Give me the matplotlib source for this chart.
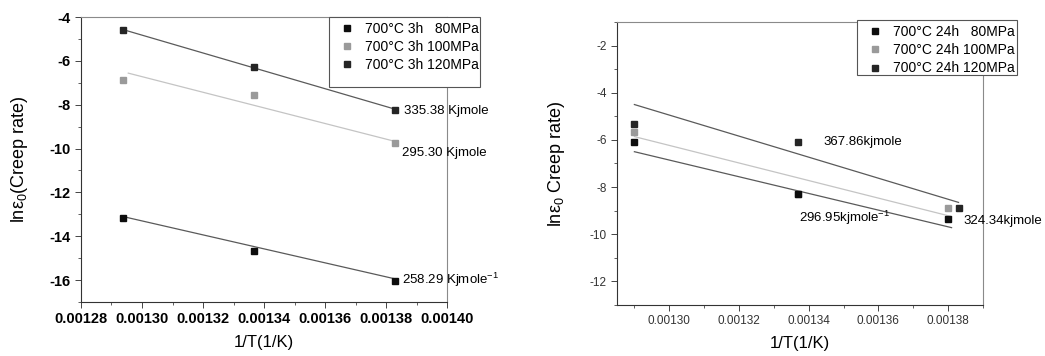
import matplotlib
matplotlib.use("Agg")
import matplotlib.pyplot as plt
from matplotlib.patches import Rectangle
from matplotlib.ticker import MultipleLocator, FormatStrFormatter

plt.rcParams["font.family"] = ["Liberation Sans", "DejaVu Sans"]
plt.rcParams["mathtext.fontset"] = "custom"
plt.rcParams["mathtext.rm"] = "Liberation Sans"
plt.rcParams["mathtext.it"] = "Liberation Sans:italic"
plt.rcParams["axes.unicode_minus"] = False

# --- left panel: 700°C 3h ---
x3 = [0.0012937, 0.0013368, 0.0013831]
y3_80 = [-13.16, -14.66, -16.03]
y3_100 = [-6.89, -7.55, -9.74]
y3_120 = [-4.60, -6.30, -8.24]
# fit lines (end points)
fit3_x = {"80": [0.0012937, 0.0013831], "100": [0.0012955, 0.0013831], "120": [0.0012937, 0.0013831]}
fit3_y = {"80": [-13.10, -15.95], "100": [-6.56, -9.68], "120": [-4.57, -8.21]}
labels3 = ["700°C 3h   80MPa", "700°C 3h 100MPa", "700°C 3h 120MPa"]
notes3 = ["335.38 Kjmole", "295.30 Kjmole", "258.29 Kjmole$^{-1}$"]
notes3_xy = [(0.0013858, -8.3), (0.0013852, -10.2), (0.0013852, -16.0)]

# --- right panel: 700°C 24h ---
x24 = [0.0012900, 0.0013368, 0.0013800]
x24_120 = [0.0012900, 0.0013368, 0.0013830]
y24_80 = [-6.07, -8.30, -9.37]
y24_100 = [-5.67, -8.30, -8.90]
y24_120 = [-5.32, -6.10, -8.87]
fit24_x = {"80": [0.0012900, 0.0013810], "100": [0.0012900, 0.0013810], "120": [0.0012900, 0.0013830]}
fit24_y = {"80": [-6.50, -9.72], "100": [-5.86, -9.25], "120": [-4.50, -8.65]}
labels24 = ["700°C 24h   80MPa", "700°C 24h 100MPa", "700°C 24h 120MPa"]
notes24 = ["367.86kjmole", "296.95kjmole$^{-1}$", "324.34kjmole"]
notes24_xy = [(0.0013442, -6.1), (0.0013372, -9.3), (0.0013843, -9.45)]

c_80, c_100, c_120 = "#0d0d0d", "#9a9a9a", "#252525"
line_dark, line_light = "#5a5a5a", "#c4c4c4"

fig = plt.figure(figsize=(10.45, 3.56), dpi=100)
ax1 = fig.add_axes([0.0775, 0.1517, 0.3503, 0.8005])
ax2 = fig.add_axes([0.5904, 0.1433, 0.3502, 0.7949])


def draw(ax, series, fits_x, fits_y, labels):
    lw = 0.9
    ax.plot(fits_x["120"], fits_y["120"], color=line_dark, lw=lw, zorder=2)
    ax.plot(fits_x["100"], fits_y["100"], color=line_light, lw=lw, zorder=2)
    ax.plot(fits_x["80"], fits_y["80"], color=line_dark, lw=lw, zorder=2)
    handles = []
    # grey points sit below the black ones where they overlap
    for (sx, sy), col, lab, z in zip(series, [c_80, c_100, c_120], labels, [4.2, 4.0, 4.1]):
        h, = ax.plot(sx, sy, ls="none", marker="s", ms=5, color=col,
                     mec=col, label=lab, zorder=z)
        handles.append(h)
    return handles


def style_frame(ax):
    for s in ["top", "right"]:
        ax.spines[s].set_color("#8a8a8a")
        ax.spines[s].set_linewidth(0.8)
    for s in ["left", "bottom"]:
        ax.spines[s].set_color("#333333")
        ax.spines[s].set_linewidth(0.8)
    ax.tick_params(which="both", direction="out", top=False, right=False,
                   color="#444444")
    ax.tick_params(which="major", length=4, width=0.7)
    ax.tick_params(which="minor", length=2.5, width=0.6)


def legend_box(ax, handles, x0, y0, w, h, fs):
    ax.add_patch(Rectangle((x0, y0), w, h, transform=ax.transAxes,
                           facecolor="white", edgecolor="#555555", lw=0.8,
                           clip_on=False, zorder=6))
    leg = ax.legend(handles=handles, loc="upper left",
                    bbox_to_anchor=(x0 + 0.02, y0 + h), frameon=False, fontsize=fs,
                    handlelength=0.8, handletextpad=0.9, labelspacing=0.3,
                    borderaxespad=0.0, borderpad=0.35, markerscale=0.9)
    leg.set_zorder(7)


# left
h1 = draw(ax1, [(x3, y3_80), (x3, y3_100), (x3, y3_120)], fit3_x, fit3_y, labels3)
ax1.set_xlim(0.00128, 0.00140)
ax1.set_ylim(-17, -4)
ax1.xaxis.set_major_locator(MultipleLocator(0.00002))
ax1.xaxis.set_minor_locator(MultipleLocator(0.00001))
ax1.xaxis.set_major_formatter(FormatStrFormatter("%.5f"))
ax1.yaxis.set_major_locator(MultipleLocator(2))
ax1.yaxis.set_minor_locator(MultipleLocator(1))
style_frame(ax1)
for lab in ax1.get_xticklabels() + ax1.get_yticklabels():
    lab.set_fontweight("bold")
    lab.set_fontsize(10.5)
ax1.set_xlabel("1/T(1/K)", fontsize=12, labelpad=6)
ax1.set_ylabel("lnε$_0$(Creep rate)", fontsize=13, labelpad=14)
for txt, (tx, ty) in zip(notes3, notes3_xy):
    ax1.text(tx, ty, txt, fontsize=9.5, va="center", ha="left", zorder=5)
legend_box(ax1, h1, 0.678, 0.754, 0.412, 0.246, 10)

# right
h2 = draw(ax2, [(x24, y24_80), (x24, y24_100), (x24_120, y24_120)],
          fit24_x, fit24_y, labels24)
ax2.set_xlim(0.001285, 0.00139)
ax2.set_ylim(-13, -1)
ax2.xaxis.set_major_locator(MultipleLocator(0.00002))
ax2.xaxis.set_minor_locator(MultipleLocator(0.00001))
ax2.xaxis.set_major_formatter(FormatStrFormatter("%.5f"))
ax2.yaxis.set_major_locator(MultipleLocator(2))
ax2.yaxis.set_minor_locator(MultipleLocator(1))
style_frame(ax2)
ax2.tick_params(labelsize=8.5, labelcolor="#333333")
ax2.set_xlabel("1/T(1/K)", fontsize=12, labelpad=6)
ax2.set_ylabel("lnε$_0$ Creep rate)", fontsize=13, labelpad=16)
for txt, (tx, ty) in zip(notes24, notes24_xy):
    ax2.text(tx, ty, txt, fontsize=9.5, va="center", ha="left", zorder=5)
legend_box(ax2, h2, 0.656, 0.811, 0.437, 0.195, 10)

fig.savefig("out.png", dpi=100)
